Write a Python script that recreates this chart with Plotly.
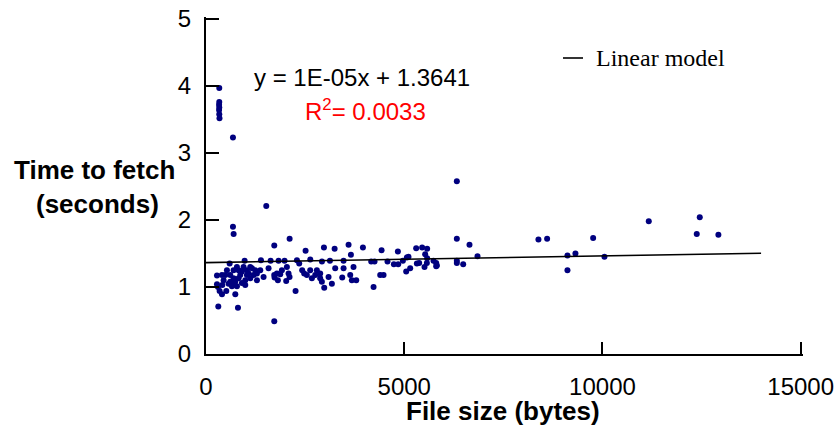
import plotly.graph_objects as go

# Observed data: file size (bytes) vs time to fetch (seconds)
file_size = [
    335, 335, 330, 335, 330, 335, 340, 680,
    1520, 680, 697, 6327, 6327,
    1722, 2109, 2512, 2975, 3244, 3596, 3958, 3655, 4428, 4840, 5301, 5452, 5578, 5528, 6646, 6848, 5578,
    596, 974, 1386, 1630, 1831, 1982, 2293, 2351, 2630, 2924, 3126, 3470, 4167, 4251, 4578, 4739, 4848,
    4966, 5067, 5108, 5319, 5377, 5571, 5738, 5823, 6327, 6327, 6487, 5806, 5806,
    277, 302, 343, 403, 512, 411, 277, 310, 806, 1722, 739, 2259, 4226,
    612, 696, 822, 906, 1032, 1158, 1242, 1368, 1452, 1578, 486, 612, 696, 780, 906, 990, 1116, 1200,
    1284, 1032, 822, 696, 570, 738, 864, 990, 1074, 1284, 948, 1116, 780, 654, 528, 402, 444,
    1721, 1788, 1872, 1813, 1729, 1914, 2023, 2082, 2107, 2426, 2477, 2544, 2628, 2670, 2755, 2796,
    2880, 2922, 2982, 3091, 3175, 3259, 2880, 3436, 3470, 3638, 3679, 3721, 3789, 4394, 4478, 5049,
    5150, 5512, 2040,
    8385, 8604, 9117, 9117, 9318, 9765, 10050, 11168, 12378, 12454, 12924,
]
fetch_time = [
    3.97, 3.76, 3.72, 3.68, 3.64, 3.58, 3.52, 3.23,
    2.21, 1.90, 1.79, 2.58, 1.72,
    1.62, 1.72, 1.54, 1.59, 1.57, 1.63, 1.59, 1.48, 1.55, 1.53, 1.58, 1.59, 1.57, 1.49, 1.63, 1.46, 1.43,
    1.35, 1.39, 1.40, 1.39, 1.39, 1.39, 1.40, 1.35, 1.41, 1.38, 1.39, 1.39, 1.38, 1.38, 1.38, 1.34, 1.34,
    1.39, 1.44, 1.45, 1.35, 1.36, 1.36, 1.39, 1.32, 1.39, 1.36, 1.34, 1.36, 1.31,
    1.17, 1.00, 0.94, 0.89, 0.94, 1.03, 1.04, 0.71, 0.69, 0.49, 0.89, 0.94, 1.00,
    1.18, 1.25, 1.25, 1.23, 1.25, 1.28, 1.25, 1.25, 1.15, 1.28, 1.18, 1.08, 1.03, 1.01, 1.06, 1.03, 1.13, 1.18,
    1.10, 1.18, 1.13, 1.13, 1.05, 1.08, 1.18, 1.10, 1.20, 1.20, 1.30, 1.30, 1.30, 1.01, 1.25, 1.18, 1.10,
    1.18, 1.20, 1.19, 1.10, 1.14, 1.25, 1.09, 1.20, 1.15, 1.25, 1.20, 1.18, 1.25, 1.13, 1.18, 1.25,
    1.20, 1.08, 0.99, 1.15, 1.05, 1.28, 1.13, 1.14, 1.28, 1.18, 1.10, 1.30, 1.10, 1.18, 1.18, 1.23,
    1.28, 1.30, 1.30,
    1.71, 1.72, 1.47, 1.25, 1.50, 1.73, 1.45, 1.98, 1.79, 2.04, 1.78,
]

# Linear model
slope = 1e-05
intercept = 1.3641
model_x = [0, 14000]
model_y = [slope * v + intercept for v in model_x]

x_ticks = [0, 5000, 10000, 15000]
y_ticks = [0, 1, 2, 3, 4, 5]

FONT = "Liberation Sans, Arial, sans-serif"

# plot area in pixels (slightly beyond the last ticks so the end ticks are drawn)
L, R, T, B = 206, 803, 17, 354
W, H = 839, 431
PX_PER_X = 594.7 / 15000
PX_PER_Y = 335 / 5
x_max = (R - L) / PX_PER_X
y_max = (B - T) / PX_PER_Y


def px(xp):
    return (xp - L) / (R - L)


def py(yp):
    return (B - yp) / (B - T)


fig = go.Figure()
fig.add_trace(go.Scatter(
    x=file_size, y=fetch_time, mode="markers",
    marker=dict(color="#00007f", size=6, line=dict(width=0)),
    showlegend=False,
))
fig.add_trace(go.Scatter(
    x=model_x, y=model_y, mode="lines",
    line=dict(color="black", width=1.6),
    name="Linear model", showlegend=False,
))

axis_common = dict(
    showline=True, linecolor="black", linewidth=2,
    ticks="inside", tickcolor="black", tickwidth=2,
    showgrid=False, zeroline=False, automargin=False,
    tickfont=dict(family=FONT, size=24, color="black"),
)
fig.update_xaxes(range=[0, x_max], tickvals=x_ticks, ticktext=[str(v) for v in x_ticks],
                 ticklen=12, ticklabelstandoff=10, **axis_common)
fig.update_yaxes(range=[0, y_max], tickvals=y_ticks, ticktext=[str(v) for v in y_ticks],
                 ticklen=13, ticklabelstandoff=8, **axis_common)

# Legend drawn manually
fig.add_shape(type="line", xref="paper", yref="paper",
              x0=px(563), x1=px(583), y0=py(58), y1=py(58),
              line=dict(color="black", width=1.6))

annotations = [
    dict(text="Linear model", x=px(594), y=py(58), xanchor="left", yanchor="middle",
         font=dict(family="Liberation Serif, Times New Roman, serif", size=24, color="black")),
    dict(text="y = 1E-05x + 1.3641", x=px(362), y=py(77),
         xanchor="center", yanchor="middle",
         font=dict(family=FONT, size=24, color="black")),
    dict(text="R<sup>2</sup>= 0.0033", x=px(365), y=py(110),
         xanchor="center", yanchor="middle",
         font=dict(family=FONT, size=24, color="red")),
    dict(text="<b>Time to fetch</b>", x=px(94), y=py(170),
         xanchor="center", yanchor="middle",
         font=dict(family=FONT, size=26, color="black")),
    dict(text="<b>(seconds)</b>", x=px(97), y=py(204),
         xanchor="center", yanchor="middle",
         font=dict(family=FONT, size=26, color="black")),
    dict(text="<b>File size (bytes)</b>", x=px(503), y=py(411),
         xanchor="center", yanchor="middle",
         font=dict(family=FONT, size=26, color="black")),
]
for a in annotations:
    a.update(xref="paper", yref="paper", showarrow=False)
fig.update_layout(annotations=annotations)

fig.update_layout(
    width=W, height=H,
    margin=dict(l=L, r=W - R, t=T, b=H - B, pad=0),
    paper_bgcolor="white", plot_bgcolor="white",
    showlegend=False,
)

fig.write_html("out.html", config={"displayModeBar": False},
               post_script="document.body.style.margin='0';")
